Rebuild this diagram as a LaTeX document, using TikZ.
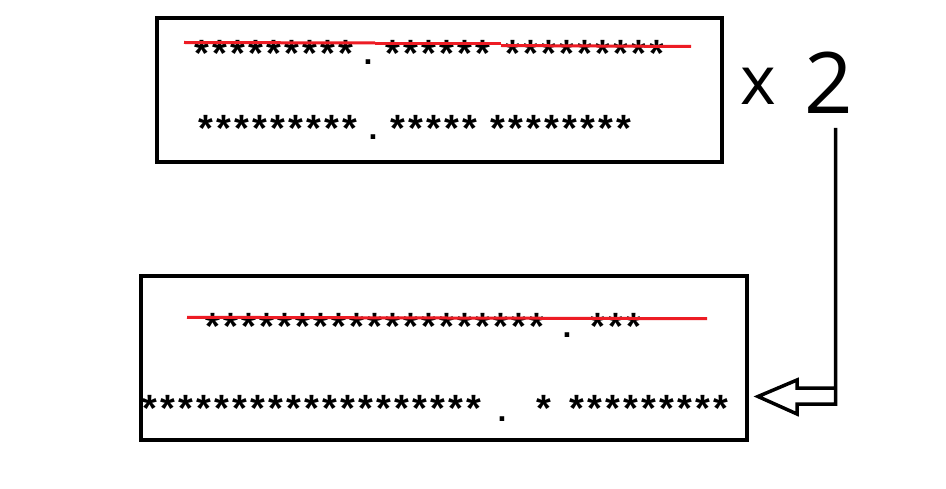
\documentclass[tikz,border=0pt]{standalone}
\usepackage{fontspec}
\setmainfont{Liberation Sans}
\newfontfamily\xfont{Open Sans}
\definecolor{paintred}{RGB}{237,28,36}
\newcommand\st{\makebox[18pt]{*}}
\begin{document}
\begin{tikzpicture}[x=1pt,y=-1pt,
  frame/.style={draw=black,line width=4pt,inner sep=0pt,minimum width=#1},
  stars/.style={inner sep=0pt,anchor=base west,font=\bfseries\fontsize{38}{38}\selectfont},
  dotmark/.style={inner sep=0pt,font=\bfseries\fontsize{32}{32}\selectfont},
  strike/.style={draw=paintred,line width=3pt},
  blockarrow/.style={draw=black,line width=3.5pt,line join=miter},
  ]
\useasboundingbox (0,0) rectangle (946,489);
\fill[white] (0,0) rectangle (946,489);
% boxes
\node[frame=565pt,minimum height=143.5pt] (topbox) at (439.5,90.25) {};
\node[frame=606pt,minimum height=163.5pt] (botbox) at (443.5,358.25) {};
% top box, row 1 (centre y=45)
\node[stars] (t1a) at (193,66.5) {\st\st\st\st\st\st\st\st\st};
\node[dotmark] (t1d) at (368,62) {.};
\node[stars] (t1b) at (384,66.5) {\st\st\st\st\st\st};
\node[stars] (t1c) at (504,66.5) {\st\st\st\st\st\st\st\st\st};
\draw[strike] (184,42.5) -- (375,43);
\draw[strike] (375,44) -- (501,44);
\draw[strike] (501,45.5) -- (691,46.5);
% top box, row 2 (centre y=120)
\node[stars] (t2a) at (197,141.5) {\st\st\st\st\st\st\st\st\st};
\node[dotmark] (t2d) at (373,137) {.};
\node[stars] (t2b) at (389,141.5) {\st\st\st\st\st};
\node[stars] (t2c) at (489,141.5) {\st\st\st\st\st\st\st\st};
% bottom box, row 1 (centre y=318)
\node[stars] (b1a) at (204,339.5) {\st\st\st\st\st\st\st\st\st\st\st\st\st\st\st\st\st\st\st};
\node[dotmark] (b1d) at (567,335) {.};
\node[stars] (b1b) at (589,339.5) {\st\st\st};
\draw[strike] (187,317.3) -- (707,318.7);
% bottom box, row 2 (centre y=400)
\node[stars] (b2a) at (141,421.5) {\st\st\st\st\st\st\st\st\st\st\st\st\st\st\st\st\st\st\st};
\node[dotmark] (b2d) at (502,419) {.};
\node[stars] (b2b) at (535,421.5) {\st};
\node[stars] (b2c) at (568,421.5) {\st\st\st\st\st\st\st\st\st};
% x 2
\node[inner sep=0pt,font=\xfont\fontsize{68}{68}\selectfont] (xl) at (758,86.5) {x};
\node[inner sep=0pt,font=\xfont\fontsize{85}{85}\selectfont] (twol) at (828.5,82.5) {2};
% connector with hollow arrow
\coordinate (ls) at (835.5,128);
\draw[blockarrow] (ls) -- (835.5,404) -- (797,404) -- (797,414) -- (758,396.5)
  -- (797,380) -- (797,388) -- (835.5,388);
\end{tikzpicture}
\end{document}
